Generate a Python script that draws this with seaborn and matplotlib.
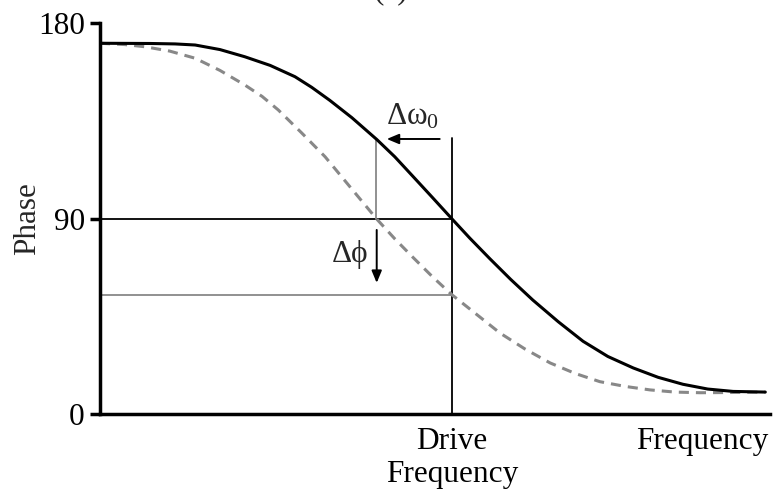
import matplotlib
matplotlib.use("Agg")
import matplotlib.pyplot as plt
import seaborn as sns
import pandas as pd

# Frequency axis in arbitrary units (0 .. 10)
freq_solid = [0.0, 0.75, 1.12, 1.42, 1.79, 2.16, 2.54, 2.91, 3.16, 3.43, 3.76, 4.13,
              4.40, 4.67, 4.96, 5.25, 5.52, 5.82, 6.13, 6.46, 6.84, 7.21, 7.58, 7.96,
              8.33, 8.70, 9.07, 9.45, 9.93]
phase_solid = [170.8, 170.7, 170.5, 170.0, 167.9, 164.6, 160.6, 155.4, 150.5, 144.5, 136.5, 126.5,
               118.5, 109.5, 99.8, 90.0, 81.0, 71.5, 62.0, 52.5, 42.5, 33.5, 26.5, 21.2,
               16.9, 13.7, 11.5, 10.4, 10.1]

freq_shifted = [0.0, 0.37, 0.67, 1.04, 1.42, 1.79, 2.16, 2.42, 2.66, 3.01, 3.36, 3.73,
                4.125, 4.40, 4.67, 4.96, 5.25, 5.60, 5.97, 6.34, 6.72, 7.09, 7.46, 7.84,
                8.21, 8.58, 8.96, 9.40, 9.93]
phase_shifted = [170.8, 170.2, 169.2, 167.2, 163.9, 158.3, 151.6, 146.3, 140.1, 129.5, 118.5, 104.7,
                 90.0, 80.7, 72.2, 63.3, 55.0, 46.4, 37.3, 30.0, 23.5, 18.7, 14.9, 12.7,
                 11.1, 10.1, 9.8, 9.9, 10.1]

drive_freq = 5.25
shifted_res = 4.125
phase_at_drive = 90.0
shifted_phase_at_drive = 55.0
solid_at_shifted_res = 126.5
drive_line_top = 127.0

y_ticks = [0, 90, 180]
x_tick_pos = [drive_freq, 8.99]
x_tick_labels = ["Drive\nFrequency", "Frequency"]

sns.set_theme(style="white")
plt.rcParams["font.family"] = ["Liberation Serif", "DejaVu Serif"]
plt.rcParams["mathtext.fontset"] = "custom"
plt.rcParams["mathtext.rm"] = "Liberation Serif"
plt.rcParams["mathtext.default"] = "regular"

FS = 22.5
fig = plt.figure(figsize=(7.74, 4.94), dpi=100)
ax = fig.add_axes([100 / 774, 1 - 414 / 494, 670 / 774, (414 - 23.3) / 494])

df_solid = pd.DataFrame({"Frequency": freq_solid, "Phase": phase_solid})
df_shift = pd.DataFrame({"Frequency": freq_shifted, "Phase": phase_shifted})

sns.lineplot(data=df_shift, x="Frequency", y="Phase", ax=ax, color="#888888",
             linewidth=2.2, linestyle=(0, (3.3, 2.3)), sort=False, zorder=2)
sns.lineplot(data=df_solid, x="Frequency", y="Phase", ax=ax, color="black",
             linewidth=2.2, sort=False, zorder=3)

# Guide lines
ax.plot([0, drive_freq], [phase_at_drive, phase_at_drive], color="black", lw=1.3, zorder=1)
ax.plot([0, drive_freq], [shifted_phase_at_drive, shifted_phase_at_drive],
        color="#888888", lw=1.3, zorder=1)
ax.plot([shifted_res, shifted_res], [phase_at_drive, solid_at_shifted_res],
        color="#888888", lw=1.3, zorder=1)
ax.plot([drive_freq, drive_freq], [0, drive_line_top], color="black", lw=1.3, zorder=1)

# Shift arrows
arrow_kw = dict(arrowstyle="-|>,head_length=0.6,head_width=0.25", color="black",
                lw=1.4, shrinkA=0, shrinkB=0)
ax.annotate("", xy=(4.28, 126.7), xytext=(5.07, 126.7), arrowprops=arrow_kw)
ax.annotate("", xy=(4.13, 60.4), xytext=(4.13, 84.8), arrowprops=arrow_kw)
ax.text(4.67, 137, "Δω$_0$", fontsize=FS, ha="center", va="center")
ax.text(3.73, 73.3, "Δϕ", fontsize=FS, ha="center", va="center")

ax.set_xlim(0, 10)
ax.set_ylim(0, 180)
ax.set_yticks(y_ticks)
ax.set_yticklabels([str(v) for v in y_ticks], fontsize=FS)
ax.set_xticks(x_tick_pos)
ax.set_xticklabels(x_tick_labels, fontsize=FS)
ax.set_xlabel("")
ax.set_ylabel("Phase", fontsize=FS, labelpad=-3)

ax.tick_params(axis="y", direction="out", length=7, width=2.5, pad=4, colors="black", left=True)
ax.tick_params(axis="x", length=0, pad=9, colors="black")
for side in ("top", "right"):
    ax.spines[side].set_visible(False)
for side in ("left", "bottom"):
    ax.spines[side].set_linewidth(2.5)
    ax.spines[side].set_color("black")

fig.text(391 / 774, 1 + 2 / 494, "(a)", ha="center", va="baseline", fontsize=FS)

fig.savefig("out.png", dpi=100)
